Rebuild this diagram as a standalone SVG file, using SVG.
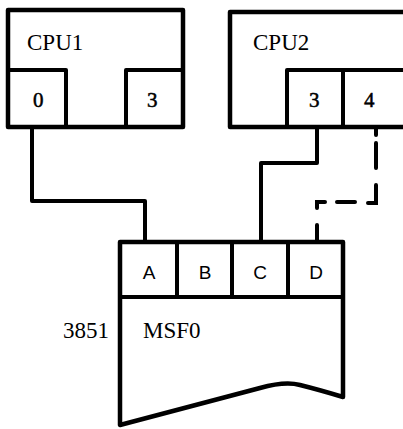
<svg xmlns="http://www.w3.org/2000/svg" width="403" height="429" viewBox="0 0 403 429">
<style>
.box{fill:#fff;stroke:#000;stroke-width:4.5;stroke-linejoin:round}
.ln{fill:none;stroke:#000;stroke-width:4;stroke-linejoin:round;stroke-linecap:round}
.dl{fill:none;stroke:#000;stroke-width:4;stroke-linecap:round}
.t{font-family:"Liberation Serif",serif;font-size:23px;fill:#000}
.p{font-family:"Liberation Serif",serif;font-size:21px;fill:#000;stroke:#000;stroke-width:0.5}
.s{font-family:"Liberation Sans",sans-serif;font-size:19px;fill:#000;text-anchor:middle}
</style>
<rect width="403" height="429" fill="#fff"/>
<g id="connectors">
<path class="ln" d="M32,127 V201 H145 V240"/>
<path class="ln" d="M317,127 V163 H261 V240"/>
<path class="dl" d="M376,127 V135 M376,143 V168 M376,185 V203 H368 M337,202 H355 M325,202 H317 V208 M317,225 V240"/>
</g>
<g id="cpu1">
<rect class="box" x="8" y="10" width="175" height="117"/>
<path class="ln" d="M8,70 H66 V127 M183,70 H126 V127"/>
<text class="t" x="27" y="50">CPU1</text>
<text class="p" x="33" y="107">0</text>
<text class="p" x="147" y="107">3</text>
</g>
<g id="cpu2">
<rect class="box" x="230" y="12" width="180" height="115"/>
<path class="ln" d="M287,127 V70 H405 M343,70 V127"/>
<text class="t" x="253" y="50">CPU2</text>
<text class="p" x="309" y="107">3</text>
<text class="p" x="364" y="107">4</text>
</g>
<g id="msf0">
<path class="box" d="M120,242 H343 V397 Q320,390 300,385 Q285,381 260,388 L120,425 Z"/>
<path class="ln" d="M120,297 H343 M177,242 V297 M232,242 V297 M288,242 V297"/>
<text class="s" x="149" y="279">A</text>
<text class="s" x="205" y="279">B</text>
<text class="s" x="260" y="279">C</text>
<text class="s" x="316" y="279">D</text>
<text class="t" x="143" y="338">MSF0</text>
<text class="t" x="63" y="338">3851</text>
</g>
</svg>
